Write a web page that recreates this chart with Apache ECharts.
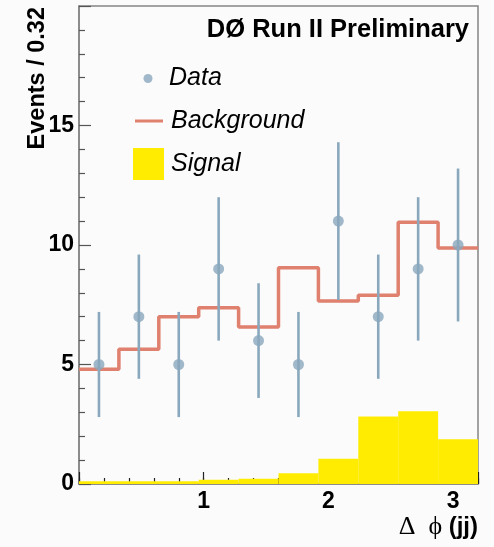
<!DOCTYPE html>
<html>
<head>
<meta charset="utf-8">
<script src="https://cdn.jsdelivr.net/npm/echarts@6/dist/echarts.min.js"></script>
<style>
html,body{margin:0;padding:0;background:#fbfbfb;}
#main{width:494px;height:547px;}
</style>
</head>
<body>
<div id="main"></div>
<script>
// Bin edges (Δφ, width 0.32)
var binEdges = [0, 0.32, 0.64, 0.96, 1.28, 1.6, 1.92, 2.24, 2.56, 2.88, 3.2];
// Data counts and their errors
var dataCounts = [5, 7, 5, 9, 6, 5, 11, 7, 9, 10];
var dataErrors = [2.2, 2.6, 2.2, 3.0, 2.4, 2.2, 3.3, 2.6, 3.0, 3.2];
// Background expectation per bin
var background = [4.8, 5.64, 7.0, 7.37, 6.57, 9.05, 7.66, 7.9, 10.95, 9.87];
// Signal expectation per bin
var signal = [0.12, 0.11, 0.12, 0.18, 0.22, 0.45, 1.06, 2.82, 3.04, 1.87];
// Axis tick labels
var xTickLabels = [1, 2, 3];
var yTickLabels = [0, 5, 10, 15];

var FONT = 'Liberation Sans, Arial, Helvetica, sans-serif';
var DATA_COLOR = '#8aa8bd';
var BKG_COLOR = '#e0806e';
var SIG_COLOR = '#ffec00';

var centers = [];
for (var i = 0; i < dataCounts.length; i++) centers.push((binEdges[i] + binEdges[i + 1]) / 2);

var pointData = centers.map(function (c, i) { return [c, dataCounts[i]]; });
var errData = centers.map(function (c, i) { return [c, dataCounts[i] - dataErrors[i], dataCounts[i] + dataErrors[i]]; });
var bkgData = background.map(function (v, i) { return [binEdges[i], v]; });
bkgData.push([binEdges[binEdges.length - 1], background[background.length - 1]]);
var sigData = signal.map(function (v, i) { return [binEdges[i], binEdges[i + 1], v]; });

var chart = echarts.init(document.getElementById('main'), null, {renderer: 'canvas'});
var legendText = {fontSize: 25, fontStyle: 'italic', fontFamily: FONT, color: '#000', lineHeight: 24};

chart.setOption({
  backgroundColor: '#fbfbfb',
  animation: false,
  title: {
    text: 'DØ Run II Preliminary',
    right: 25, top: 17, padding: 0,
    textStyle: {fontSize: 25.5, fontWeight: 'bold', fontFamily: FONT, color: '#000'}
  },
  legend: [
    {data: [{name: 'Data', icon: 'circle'}], left: 143.5, top: 66, padding: 0, itemWidth: 32, itemHeight: 9,
     textStyle: Object.assign({padding: [0, 0, 0, 0]}, legendText), selectedMode: false},
    {data: [{name: 'Background', icon: 'rect'}], left: 135, top: 108.5, padding: 0, itemWidth: 28, itemHeight: 3,
     textStyle: Object.assign({padding: [0, 0, 0, 3]}, legendText), selectedMode: false},
    {data: [{name: 'Signal', icon: 'rect'}], left: 133, top: 148, padding: 0, itemWidth: 31, itemHeight: 32,
     textStyle: Object.assign({padding: [0, 0, 0, 2]}, legendText), selectedMode: false}
  ],
  grid: {left: 79, right: 16, top: 6, bottom: 63, show: true, borderColor: '#858585', borderWidth: 1.5,
         backgroundColor: 'transparent', containLabel: false, outerBoundsMode: 'none'},
  xAxis: [
    {
      type: 'value', min: 0, max: 3.2, interval: 1,
      name: '{a|Δ  ϕ }{b|(jj)}', nameLocation: 'end', nameGap: 0, nameMoveOverlap: false,
      nameTextStyle: {align: 'right', verticalAlign: 'top', padding: [30, 0, 0, 0],
        rich: {a: {fontFamily: 'Liberation Serif, DejaVu Serif, serif', fontSize: 26, color: '#000'},
               b: {fontFamily: FONT, fontSize: 24, fontWeight: 'bold', color: '#000'}}},
      axisLine: {show: true, lineStyle: {color: '#858585', width: 1.5}},
      axisTick: {show: true, inside: true, length: 12, lineStyle: {color: '#222', width: 1.2}},
      axisLabel: {fontSize: 23, fontWeight: 'bold', fontFamily: FONT, color: '#000', margin: 6,
        formatter: function (v) { return xTickLabels.indexOf(v) >= 0 ? String(v) : ''; }},
      splitLine: {show: false}
    },
    {
      type: 'value', min: 0, max: 3.2, interval: 0.2, position: 'bottom',
      axisLine: {show: false},
      axisTick: {show: true, inside: true, length: 6, lineStyle: {color: '#222', width: 1.2}},
      axisLabel: {show: false},
      splitLine: {show: false}
    }
  ],
  yAxis: {
    type: 'value', min: 0, max: 20, interval: 5,
    name: 'Events / 0.32', nameLocation: 'end', nameRotate: 90, nameGap: -1, nameMoveOverlap: false,
    nameTextStyle: {align: 'right', verticalAlign: 'bottom', padding: [0, 0, 29, 0],
      fontSize: 23.5, fontWeight: 'bold', fontFamily: FONT, color: '#000'},
    axisLine: {show: true, lineStyle: {color: '#858585', width: 1.5}},
    axisTick: {show: true, inside: true, length: 12, lineStyle: {color: '#555', width: 1.2}},
    minorTick: {show: true, splitNumber: 5, length: 6, lineStyle: {color: '#555', width: 1.2}},
    axisLabel: {fontSize: 23, fontWeight: 'bold', fontFamily: FONT, color: '#000', margin: 5,
      formatter: function (v) { return yTickLabels.indexOf(v) >= 0 ? String(v) : ''; }},
    splitLine: {show: false}
  },
  series: [
    {
      name: 'Signal', type: 'custom', itemStyle: {color: SIG_COLOR}, z: 1,
      data: sigData,
      encode: {x: [0, 1], y: 2},
      renderItem: function (params, api) {
        var p0 = api.coord([api.value(0), api.value(2)]);
        var p1 = api.coord([api.value(1), 0]);
        return {type: 'rect', shape: {x: p0[0], y: p0[1], width: p1[0] - p0[0], height: p1[1] - p0[1]},
                style: {fill: SIG_COLOR}};
      }
    },
    {
      name: 'Background', type: 'line', step: 'end', data: bkgData, showSymbol: false, symbol: 'none',
      color: BKG_COLOR, lineStyle: {color: BKG_COLOR, width: 3.5}, z: 2
    },
    {
      name: 'DataErr', type: 'custom', z: 3,
      data: errData,
      encode: {x: 0, y: [1, 2]},
      renderItem: function (params, api) {
        var lo = api.coord([api.value(0), api.value(1)]);
        var hi = api.coord([api.value(0), api.value(2)]);
        return {type: 'line', shape: {x1: lo[0], y1: lo[1], x2: hi[0], y2: hi[1]},
                style: {stroke: DATA_COLOR, lineWidth: 2.6}};
      }
    },
    {
      name: 'Data', type: 'scatter', data: pointData, symbol: 'circle', symbolSize: 11,
      itemStyle: {color: DATA_COLOR}, color: DATA_COLOR, z: 4
    }
  ]
});
</script>
</body>
</html>
